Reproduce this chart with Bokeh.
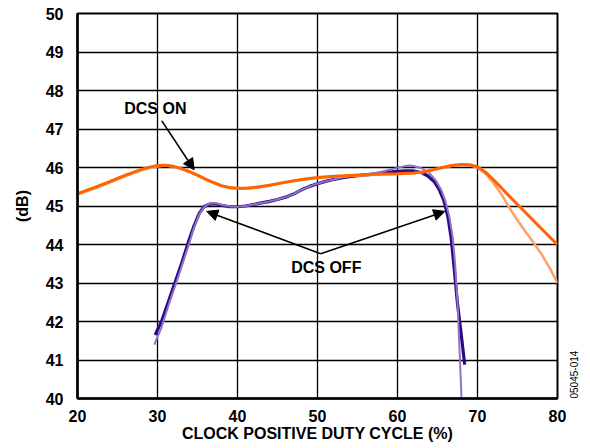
import numpy as np
from bokeh.plotting import figure
from bokeh.models import Range1d, FixedTicker, Label, Arrow, NormalHead, LinearAxis
from bokeh.embed import file_html
from bokeh.resources import INLINE

# ---------------- data ----------------
X_TICKS = [20, 30, 40, 50, 60, 70, 80]
Y_TICKS = [40, 41, 42, 43, 44, 45, 46, 47, 48, 49, 50]

on_x = [20, 22, 24, 26, 28, 29, 30, 31, 32, 33, 34, 35, 36, 37, 38, 39, 40, 41, 42, 44,
        46, 48, 50, 52, 54, 56, 58, 60, 62, 63, 64, 65, 66, 67, 68, 69, 70,
        71, 72, 73, 74, 75, 76, 77, 78, 79, 80]
on_dark = [45.32, 45.47, 45.63, 45.80, 45.95, 46.01, 46.05, 46.06, 46.03, 45.97, 45.89,
           45.80, 45.70, 45.61, 45.53, 45.48, 45.46, 45.46, 45.48, 45.54,
           45.62, 45.69, 45.74, 45.77, 45.79, 45.81, 45.83, 45.84, 45.86, 45.88, 45.92,
           45.97, 46.02, 46.06, 46.08, 46.07, 46.02,
           45.88, 45.68, 45.47, 45.25, 45.04, 44.83, 44.62, 44.41, 44.20, 44.00]
on_light = [45.30, 45.45, 45.61, 45.78, 45.93, 45.99, 46.03, 46.05, 46.02, 45.96, 45.88,
            45.79, 45.69, 45.60, 45.52, 45.47, 45.45, 45.45, 45.47, 45.53,
            45.61, 45.68, 45.73, 45.76, 45.78, 45.80, 45.82, 45.83, 45.85, 45.87, 45.91,
            45.96, 46.01, 46.05, 46.07, 46.06, 46.00,
            45.84, 45.60, 45.30, 44.95, 44.63, 44.33, 44.05, 43.75, 43.40, 43.00]

off_dark_x = [29.7, 30.5, 31.5, 32.5, 33.0, 34.0, 34.5, 35.2, 35.8, 36.5, 37.2, 38, 39, 40,
              41, 42, 43, 44, 45, 46, 47, 48, 49, 50, 51, 52, 53, 54, 55, 56, 57, 58, 59,
              60, 61, 62, 63, 63.8, 64.6, 65.2, 65.8, 66.3, 66.7, 67.1, 67.5, 68.0, 68.4]
off_dark = [41.65, 42.00, 42.60, 43.20, 43.50, 44.15, 44.45, 44.80, 44.98, 45.05, 45.06,
            45.02, 44.98, 44.98, 45.00, 45.04, 45.08, 45.12, 45.17, 45.23, 45.31, 45.42,
            45.51, 45.58, 45.64, 45.69, 45.73, 45.76, 45.79, 45.81, 45.83, 45.85, 45.88,
            45.90, 45.91, 45.91, 45.87, 45.78, 45.63, 45.43, 45.14, 44.72, 44.19, 43.35,
            42.46, 41.60, 40.88]

off_light_x = [29.6, 30.5, 31.5, 32.5, 33.0, 34.0, 34.5, 35.2, 35.8, 36.5, 37.2, 38, 39, 40,
               41, 42, 43, 44, 45, 46, 47, 48, 49, 50, 51, 52, 53, 54, 55, 56, 57, 58, 59,
               60, 61, 61.5, 62, 63, 64, 64.8, 65.5, 66.0, 66.5, 66.9, 67.2, 67.5, 67.75, 68.0]
off_light = [41.40, 41.85, 42.50, 43.10, 43.42, 44.05, 44.40, 44.78, 44.97, 45.06, 45.08,
             45.03, 44.99, 44.98, 45.00, 45.04, 45.08, 45.12, 45.17, 45.23, 45.31, 45.42,
             45.51, 45.58, 45.64, 45.69, 45.74, 45.77, 45.80, 45.82, 45.85, 45.89, 45.94,
             45.99, 46.04, 46.05, 46.04, 45.98, 45.85, 45.66, 45.40, 45.12, 44.70, 44.19,
             43.50, 42.50, 41.30, 40.00]

FONT = "Liberation Sans"

p = figure(width=590, height=448, output_backend="svg", toolbar_location=None,
           x_range=Range1d(20, 80), y_range=Range1d(40, 50),
           min_border_left=77, min_border_right=33, min_border_top=13, min_border_bottom=50,
           x_axis_label="CLOCK POSITIVE DUTY CYCLE (%)", y_axis_label="(dB)")
p.background_fill_color = "white"
p.border_fill_color = "white"
p.outline_line_color = "black"
p.outline_line_width = 2
p.outline_line_alpha = 1

p.xaxis.ticker = FixedTicker(ticks=X_TICKS)
p.yaxis.ticker = FixedTicker(ticks=Y_TICKS)
for ax in (p.xaxis, p.yaxis):
    ax.axis_line_color = "black"
    ax.axis_line_width = 2.5
    ax.major_tick_line_color = None
    ax.minor_tick_line_color = None
    ax.major_label_text_font = FONT
    ax.major_label_text_font_style = "bold"
    ax.major_label_text_font_size = "16px"
    ax.major_label_text_color = "black"
    ax.axis_label_text_font = FONT
    ax.axis_label_text_font_style = "bold"
    ax.axis_label_text_font_size = "16px"
    ax.axis_label_text_color = "black"
p.xaxis.major_label_standoff = 5
p.xaxis.axis_label_standoff = 0
p.yaxis.major_label_standoff = 8
p.yaxis.axis_label_standoff = 12

p.grid.grid_line_color = "black"
p.grid.grid_line_width = 1.3
p.grid.grid_line_alpha = 1

# figure code on the right, as a tick-less axis label
code_axis = LinearAxis(ticker=FixedTicker(ticks=[40.0]),
                       major_label_overrides={40.0: "05045-014"},
                       major_label_orientation=np.pi / 2,
                       major_label_text_font=FONT, major_label_text_font_size="10px",
                       major_label_text_color="black", major_label_standoff=10,
                       axis_line_color=None, major_tick_line_color=None,
                       minor_tick_line_color=None)
p.add_layout(code_axis, "right")

DARK_OR = "#FF6400"
LIGHT_OR = "#FBA26E"
DARK_PU = "#2C0A86"
LIGHT_PU = "#8D72C6"

p.line(off_dark_x, off_dark, line_color=DARK_PU, line_width=3.2)
p.line(off_light_x, off_light, line_color=LIGHT_PU, line_width=2)
p.line(on_x, on_light, line_color=LIGHT_OR, line_width=2.6)
p.line(on_x, on_dark, line_color=DARK_OR, line_width=3)

lab_kw = dict(text_font=FONT, text_font_style="bold", text_font_size="16px",
              text_color="black", text_align="center", text_baseline="middle")
p.add_layout(Label(x=29.73, y=47.52, text="DCS ON", **lab_kw))
p.add_layout(Label(x=51.1, y=43.41, text="DCS OFF", **lab_kw))

def head():
    return NormalHead(size=11, fill_color="black", line_color="black", line_width=1)

p.add_layout(Arrow(end=head(), x_start=30.54, y_start=47.21, x_end=34.58, y_end=45.94,
                   line_color="black", line_width=1.6))
p.add_layout(Arrow(end=head(), x_start=50.4, y_start=43.76, x_end=36.16, y_end=44.86,
                   line_color="black", line_width=1.6))
p.add_layout(Arrow(end=head(), x_start=50.4, y_start=43.76, x_end=65.91, y_end=44.86,
                   line_color="black", line_width=1.6))

open("out.html", "w").write(file_html(p, INLINE))
